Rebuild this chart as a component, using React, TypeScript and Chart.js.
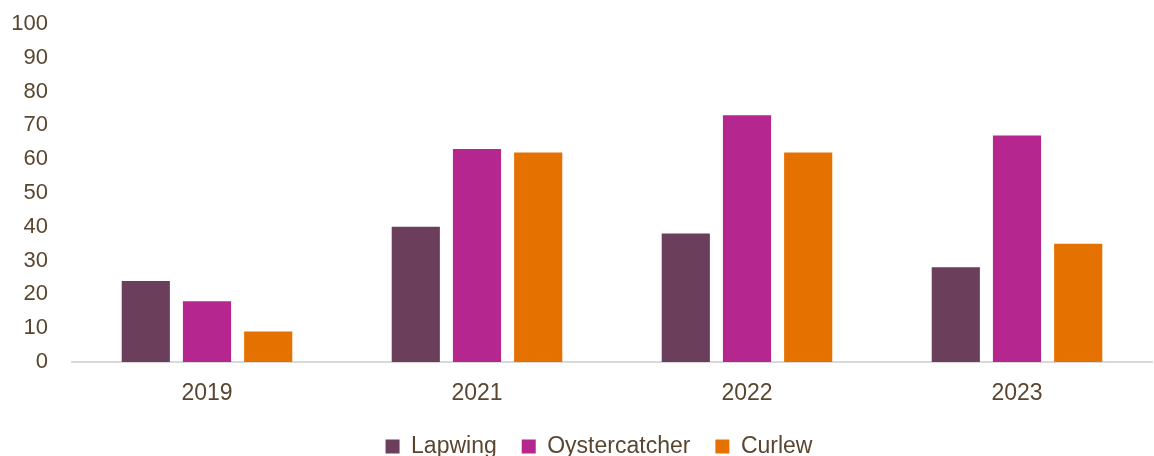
import React, { useEffect, useRef } from "react";
import { Chart, registerables } from "chart.js";

Chart.register(...registerables);

const categories = ["2019", "2021", "2022", "2023"];
const lapwing = [24, 40, 38, 28];
const oystercatcher = [18, 63, 73, 67];
const curlew = [9, 62, 62, 35];
const yTicks = [0, 10, 20, 30, 40, 50, 60, 70, 80, 90, 100];

const TEXT = "#5a4630";
const FONT = "'Liberation Sans', Arial, sans-serif";

const shiftLegend = {
  id: "shiftLegend",
  afterLayout(chart: any) {
    const l = chart.legend;
    if (l) {
      l.left += 23;
      l.right += 23;
    }
  },
};

export default function App() {
  const ref = useRef<HTMLCanvasElement | null>(null);
  useEffect(() => {
    document.body.style.margin = "0";
    const ctx = ref.current!;
    const chart = new Chart(ctx, {
      type: "bar",
      data: {
        labels: categories,
        datasets: [
          { label: "Lapwing", data: lapwing, backgroundColor: "#6b3f5c" },
          { label: "Oystercatcher", data: oystercatcher, backgroundColor: "#b5268e" },
          { label: "Curlew", data: curlew, backgroundColor: "#e57200" },
        ],
      },
      plugins: [shiftLegend],
      options: {
        animation: false,
        responsive: false,
        devicePixelRatio: 1,
        layout: { padding: { top: 0, right: 2, left: 0, bottom: 0 } },
        datasets: {
          bar: { categoryPercentage: 0.68, barPercentage: 0.787 },
        },
        plugins: {
          tooltip: { enabled: false },
          legend: {
            position: "bottom",
            labels: {
              color: TEXT,
              font: { family: FONT, size: 23 },
              boxWidth: 14,
              boxHeight: 14,
              padding: 25,
            },
          },
        },
        scales: {
          x: {
            grid: { display: false, drawTicks: false },
            border: { display: true, color: "#d9d9d9", width: 2 },
            ticks: { color: TEXT, font: { family: FONT, size: 23 }, padding: 18 },
            afterFit: (axis: any) => {
              axis.height = 48;
            },
          },
          y: {
            min: 0,
            max: 100,
            afterBuildTicks: (axis: any) => {
              axis.ticks = yTicks.map((v) => ({ value: v }));
            },
            afterFit: (axis: any) => {
              axis.width = 72;
              axis.paddingTop = 24;
              axis.paddingBottom = 0;
            },
            grid: { display: false, drawTicks: false },
            border: { display: false },
            ticks: { color: TEXT, font: { family: FONT, size: 22 }, padding: 24 },
          },
        },
      },
    });
    return () => chart.destroy();
  }, []);
  return (
    <div style={{ position: "absolute", left: 0, top: 0, width: 1154, height: 468 }}>
      <canvas ref={ref} width={1154} height={468} style={{ display: "block" }} />
    </div>
  );
}
